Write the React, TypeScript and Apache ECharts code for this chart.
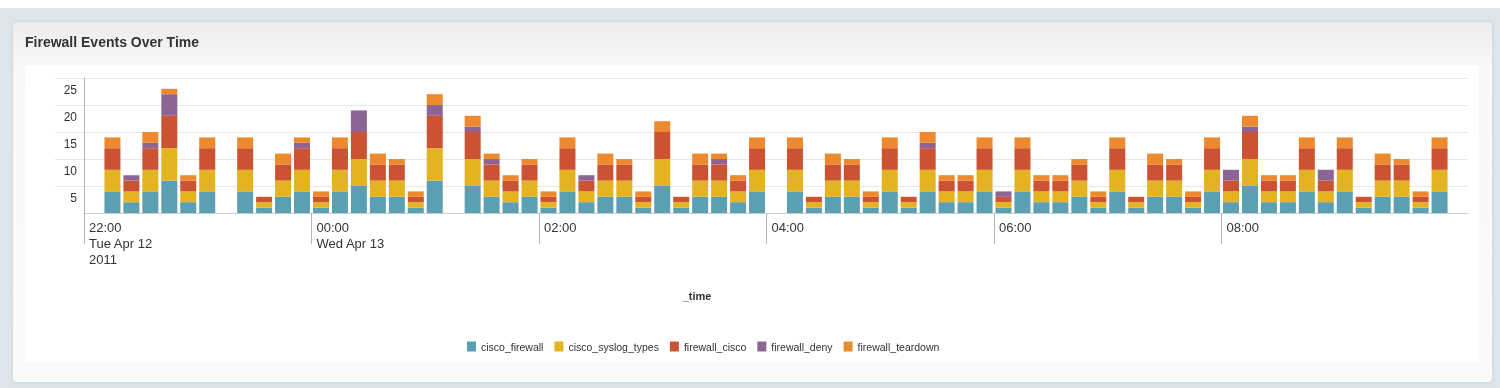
import React, { useEffect, useRef } from "react";
import * as echarts from "echarts";

// 10-minute buckets starting 22:00 Tue Apr 12 2011 (73 buckets)
const bucketCount = 73;
const categories: string[] = Array.from({ length: bucketCount }, (_, i) => {
  const m = (22 * 60 + i * 10) % (24 * 60);
  const hh = String(Math.floor(m / 60)).padStart(2, "0");
  const mm = String(m % 60).padStart(2, "0");
  return `${hh}:${mm}`;
});

const seriesNames = ["cisco_firewall", "cisco_syslog_types", "firewall_cisco", "firewall_deny", "firewall_teardown"];
const seriesColors = ["#5b9fb3", "#e4b322", "#cb5332", "#8c6596", "#ec8a2d"];

const ciscoFirewall = [
  0, 4, 2, 4, 6, 2, 4, 0, 4, 1,
  3, 4, 1, 4, 5, 3, 3, 1, 6, 0,
  5, 3, 2, 3, 1, 4, 2, 3, 3, 1,
  5, 1, 3, 3, 2, 4, 0, 4, 1, 3,
  3, 1, 4, 1, 4, 2, 2, 4, 1, 4,
  2, 2, 3, 1, 4, 1, 3, 3, 1, 4,
  2, 5, 2, 2, 4, 2, 4, 1, 3, 3,
  1, 4, 0,
];
const ciscoSyslogTypes = [
  0, 4, 2, 4, 6, 2, 4, 0, 4, 1,
  3, 4, 1, 4, 5, 3, 3, 1, 6, 0,
  5, 3, 2, 3, 1, 4, 2, 3, 3, 1,
  5, 1, 3, 3, 2, 4, 0, 4, 1, 3,
  3, 1, 4, 1, 4, 2, 2, 4, 1, 4,
  2, 2, 3, 1, 4, 1, 3, 3, 1, 4,
  2, 5, 2, 2, 4, 2, 4, 1, 3, 3,
  1, 4, 0,
];
const firewallCisco = [
  0, 4, 2, 4, 6, 2, 4, 0, 4, 1,
  3, 4, 1, 4, 5, 3, 3, 1, 6, 0,
  5, 3, 2, 3, 1, 4, 2, 3, 3, 1,
  5, 1, 3, 3, 2, 4, 0, 4, 1, 3,
  3, 1, 4, 1, 4, 2, 2, 4, 1, 4,
  2, 2, 3, 1, 4, 1, 3, 3, 1, 4,
  2, 5, 2, 2, 4, 2, 4, 1, 3, 3,
  1, 4, 0,
];
const firewallDeny = [
  0, 0, 1, 1, 4, 0, 0, 0, 0, 0,
  0, 1, 0, 0, 4, 0, 0, 0, 2, 0,
  1, 1, 0, 0, 0, 0, 1, 0, 0, 0,
  0, 0, 0, 1, 0, 0, 0, 0, 0, 0,
  0, 0, 0, 0, 1, 0, 0, 0, 1, 0,
  0, 0, 0, 0, 0, 0, 0, 0, 0, 0,
  2, 1, 0, 0, 0, 2, 0, 0, 0, 0,
  0, 0, 0,
];
const firewallTeardown = [
  0, 2, 0, 2, 1, 1, 2, 0, 2, 0,
  2, 1, 1, 2, 0, 2, 1, 1, 2, 0,
  2, 1, 1, 1, 1, 2, 0, 2, 1, 1,
  2, 0, 2, 1, 1, 2, 0, 2, 0, 2,
  1, 1, 2, 0, 2, 1, 1, 2, 0, 2,
  1, 1, 1, 1, 2, 0, 2, 1, 1, 2,
  0, 2, 1, 1, 2, 0, 2, 0, 2, 1,
  1, 2, 0,
];
const seriesValues = [ciscoFirewall, ciscoSyslogTypes, firewallCisco, firewallDeny, firewallTeardown];

// x tick positions (bucket index) and their labels
const xTickIndex = [0, 12, 24, 36, 48, 60];
const xTickLabels = ["22:00\nTue Apr 12\n2011", "00:00\nWed Apr 13", "02:00", "04:00", "06:00", "08:00"];
const yTickValues = [5, 10, 15, 20, 25];

const FONT = "'Liberation Sans', Arial, Helvetica, sans-serif";

export default function App() {
  const ref = useRef<HTMLDivElement>(null);
  useEffect(() => {
    if (!ref.current) return;
    const chart = echarts.init(ref.current, undefined, { renderer: "svg" });
    chart.setOption({
      animation: false,
      textStyle: { fontFamily: FONT },
      title: {
        text: "Firewall Events Over Time",
        left: 25,
        top: 35,
        padding: 0,
        textStyle: { fontSize: 14, fontWeight: "bold", color: "#333", fontFamily: FONT },
      },
      graphic: [
        { type: "rect", z: -20, silent: true, shape: { x: 0, y: 0, width: 1500, height: 388 }, style: { fill: "#ffffff" } },
        { type: "rect", z: -19, silent: true, shape: { x: 0, y: 8, width: 1500, height: 380 }, style: { fill: "#dce5ea" } },
        {
          type: "rect",
          z: -18,
          silent: true,
          shape: { x: 13, y: 22, width: 1479, height: 360, r: 4 },
          style: {
            fill: {
              type: "linear",
              x: 0, y: 0, x2: 0, y2: 1,
              colorStops: [
                { offset: 0, color: "#ececec" },
                { offset: 0.12, color: "#f8f8f8" },
                { offset: 1, color: "#fafafa" },
              ],
            },
            shadowBlur: 3,
            shadowColor: "rgba(0,0,0,0.12)",
          },
        },
        { type: "rect", z: -17, silent: true, shape: { x: 25, y: 65, width: 1454, height: 297 }, style: { fill: "#ffffff" } },
        {
          type: "text",
          z: 10,
          x: 697,
          y: 296,
          style: { text: "_time", font: `bold 11px ${FONT}`, fill: "#333", align: "center", verticalAlign: "middle" },
        },
      ],
      legend: {
        left: 462,
        top: 336,
        itemWidth: 9,
        itemHeight: 10,
        itemGap: 11,
        icon: "rect",
        data: seriesNames,
        textStyle: { fontSize: 10.5, color: "#333", fontFamily: FONT },
      },
      grid: { left: 84, top: 78, width: 1384, height: 135, containLabel: false },
      xAxis: [
        {
          type: "category",
          data: categories,
          boundaryGap: true,
          axisLine: { show: true, lineStyle: { color: "#cccccc", width: 1 } },
          axisTick: { show: false },
          axisLabel: { show: false },
          splitLine: { show: false },
        },
        {
          type: "value",
          position: "bottom",
          min: 0,
          max: bucketCount,
          interval: 12,
          axisLine: { show: false },
          axisTick: { show: true, customValues: xTickIndex, length: 31, lineStyle: { color: "#b5b5b5" } },
          splitLine: { show: false },
          axisLabel: {
            customValues: xTickIndex,
            formatter: (v: number) => {
              const k = xTickIndex.indexOf(Math.round(v));
              return k >= 0 ? xTickLabels[k] : "";
            },
            align: "left",
            verticalAlign: "top",
            margin: 6,
            padding: [0, 0, 0, 5],
            lineHeight: 16,
            fontSize: 13,
            color: "#333",
            fontFamily: FONT,
          },
        },
      ],
      yAxis: {
        type: "value",
        min: 0,
        max: 25,
        interval: 5,
        axisLine: { show: true, lineStyle: { color: "#b5b5b5" } },
        axisTick: { show: true, customValues: yTickValues, length: 29, lineStyle: { color: "#e6e6e6" } },
        splitLine: { show: true, lineStyle: { color: "#e6e6e6" } },
        axisLabel: {
          customValues: yTickValues,
          margin: 7,
          verticalAlign: "top",
          padding: [6, 0, 0, 0],
          fontSize: 12,
          color: "#333",
          fontFamily: FONT,
        },
      },
      series: seriesNames.map((name, s) => ({
        name,
        type: "bar",
        stack: "total",
        xAxisIndex: 0,
        barWidth: 16,
        itemStyle: { color: seriesColors[s] },
        emphasis: { disabled: true },
        data: seriesValues[s],
      })),
    });
    return () => chart.dispose();
  }, []);
  return <div ref={ref} style={{ position: "fixed", left: 0, top: 0, width: 1500, height: 388 }} />;
}
